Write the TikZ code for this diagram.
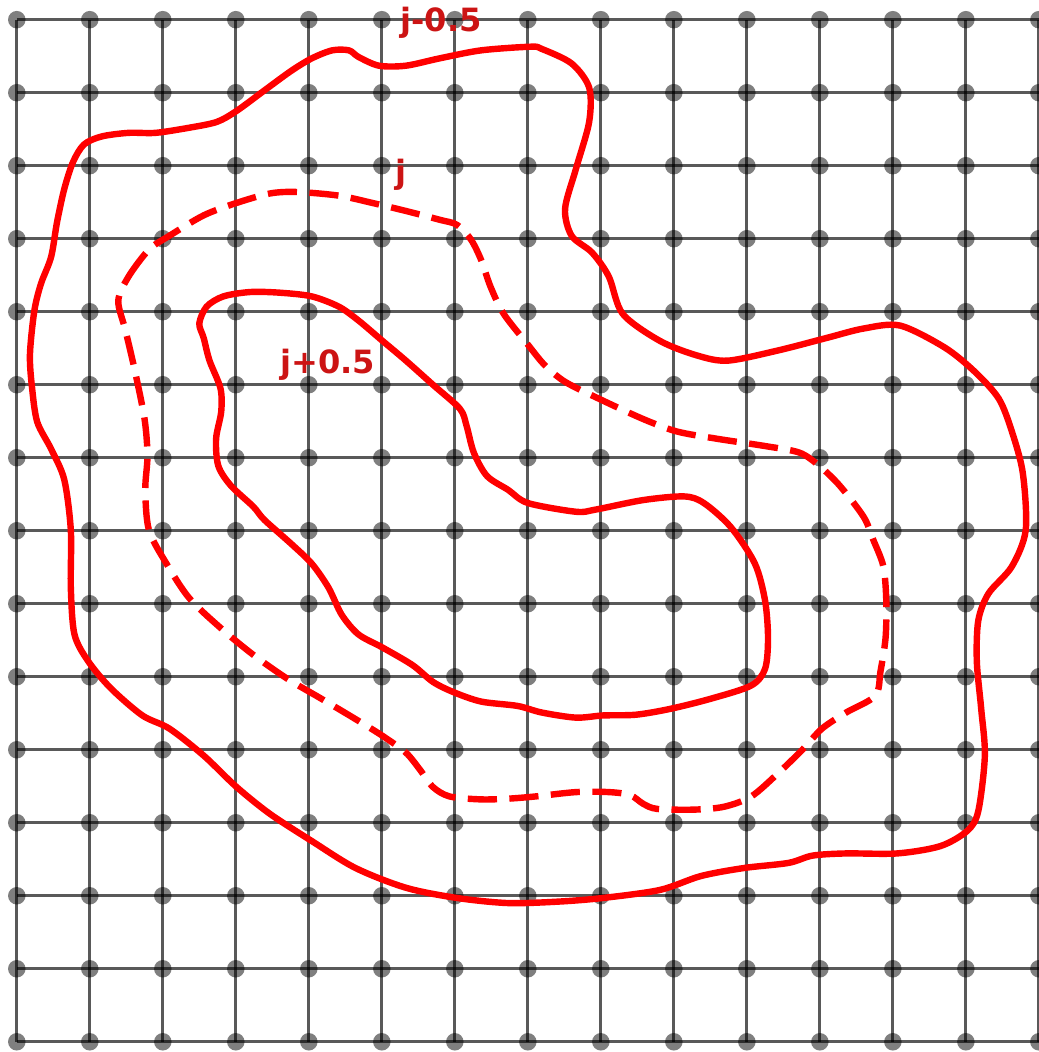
\documentclass[tikz,border=0pt]{standalone}
\usepackage{fontspec}
\setmainfont{DejaVu Sans}
\usepackage{tikz}
\definecolor{LevelRed}{HTML}{FF0000}
\definecolor{LabelRed}{HTML}{CC1414}

\begin{document}
\begin{tikzpicture}[
 gridline/.style={draw=black,opacity=0.65,line width=1.1pt},
 gdot/.style={circle,fill=black,fill opacity=0.5,inner sep=0pt,minimum size=2.4mm},
 level/.style={draw=LevelRed,line width=2.5pt,line join=round},
 lab/.style={text=LabelRed,font=\fontsize{12.5}{15}\selectfont\bfseries,inner sep=0pt,anchor=base}]
\clip (-0.23,-0.14) rectangle (14.0,14.27);
% lattice
\foreach \k in {0,...,14} {
  \draw[gridline] (0,\k) -- (14,\k);
  \draw[gridline] (\k,0) -- (\k,14);
}
\foreach \i in {0,...,14}
  \foreach \j in {0,...,14}
    \node[gdot] (p-\i-\j) at (\i,\j) {};
% level j-0.5
\draw[level] plot[smooth cycle] coordinates {
 (4.32,13.58) (4.55,13.58) (4.68,13.49) (4.96,13.37) (5.33,13.37) (5.79,13.47)
 (6.36,13.58) (7.04,13.63) (7.19,13.60) (7.60,13.40) (7.84,13.07) (7.84,12.60)
 (7.66,11.96) (7.51,11.41) (7.60,11.04) (7.88,10.81) (8.11,10.48) (8.30,9.97)
 (8.81,9.60) (9.32,9.40) (9.74,9.33) (10.43,9.47) (11.09,9.64) (11.60,9.77)
 (12.10,9.81) (12.71,9.51) (13.12,9.18) (13.45,8.81) (13.63,8.36) (13.78,7.79)
 (13.82,7.01) (13.63,6.51) (13.31,6.14) (13.17,5.77) (13.15,5.21)
 (13.21,4.56) (13.26,3.92) (13.17,3.16) (13.02,2.89) (12.65,2.68) (12.06,2.58)
 (11.36,2.58) (10.90,2.55) (10.57,2.45) (9.96,2.38) (9.37,2.27) (8.81,2.08)
 (8.03,1.97) (7.42,1.92) (6.73,1.90) (6.03,1.97) (5.33,2.11) (4.64,2.38)
 (4.04,2.75) (3.47,3.12) (3.01,3.49) (2.56,3.92) (2.09,4.29) (1.72,4.47)
 (1.29,4.84) (0.98,5.21) (0.79,5.58) (0.74,6.22) (0.74,7.01) (0.65,7.70)
 (0.47,8.12) (0.28,8.49) (0.21,8.95) (0.18,9.41) (0.24,10.01) (0.33,10.38)
 (0.47,10.75) (0.55,11.22) (0.65,11.68) (0.77,12.05) (0.92,12.29) (1.16,12.40)
 (1.53,12.45) (1.90,12.45) (2.36,12.52) (2.74,12.60) (3.01,12.75) (3.39,13.03)
 (3.76,13.30) (4.04,13.47)};
% level j
\draw[level,dash pattern=on 0.4cm off 0.17cm] plot[smooth cycle] coordinates {
 (1.39,10.15) (1.53,10.48) (1.81,10.85) (2.09,11.04) (2.56,11.32) (3.01,11.49)
 (3.47,11.62) (3.84,11.64) (4.41,11.59) (4.87,11.49) (5.33,11.38) (5.79,11.26)
 (6.03,11.19) (6.22,10.99) (6.36,10.71) (6.49,10.34) (6.67,9.97) (7.00,9.55)
 (7.23,9.27) (7.51,9.04) (7.97,8.81) (8.58,8.53) (9.04,8.36) (9.59,8.26)
 (10.25,8.16) (10.72,8.07) (10.99,7.89) (11.27,7.62) (11.60,7.19) (11.73,6.88)
 (11.87,6.51) (11.91,6.04) (11.90,5.53) (11.83,5.07) (11.76,4.74) (11.36,4.51)
 (11.03,4.29) (10.76,4.00) (10.43,3.68) (10.06,3.36) (9.69,3.22) (9.28,3.18)
 (8.77,3.19) (8.58,3.26) (8.40,3.38) (8.11,3.42) (7.66,3.42) (7.10,3.36)
 (6.73,3.33) (6.36,3.32) (5.93,3.36) (5.70,3.49) (5.52,3.73) (5.33,3.96)
 (5.01,4.19) (4.64,4.42) (4.17,4.70) (3.71,4.97) (3.24,5.30) (2.79,5.67)
 (2.36,6.08) (2.05,6.55) (1.81,7.01) (1.76,7.56) (1.79,8.03) (1.75,8.53)
 (1.62,9.18) (1.49,9.74)};
% level j+0.5
\draw[level] plot[smooth cycle] coordinates {
 (2.50,9.84) (2.60,10.07) (2.83,10.21) (3.20,10.27) (3.61,10.26) (4.04,10.21)
 (4.41,10.07) (4.68,9.88) (5.01,9.60) (5.33,9.33) (5.70,9.00) (6.07,8.67)
 (6.16,8.44) (6.26,8.07) (6.44,7.75) (6.73,7.56) (7.00,7.38) (7.66,7.26)
 (7.93,7.29) (8.58,7.42) (9.14,7.47) (9.41,7.38) (9.78,7.05) (10.11,6.55)
 (10.25,6.04) (10.29,5.53) (10.25,5.11) (10.06,4.88) (9.51,4.70) (8.95,4.56)
 (8.48,4.48) (8.03,4.47) (7.66,4.44) (7.19,4.51) (6.86,4.60) (6.36,4.66)
 (5.98,4.79) (5.70,4.93) (5.42,5.16) (5.01,5.40) (4.68,5.58) (4.45,5.85)
 (4.27,6.22) (4.04,6.55) (3.76,6.82) (3.39,7.15) (3.24,7.33) (2.93,7.62)
 (2.76,7.89) (2.73,8.26) (2.80,8.63) (2.79,8.95) (2.64,9.33) (2.56,9.64)};
% labels
\node[lab] (lm) at (5.81,13.84) {j-0.5};
\node[lab] (l0) at (5.26,11.75) {j};
\node[lab] (lp) at (4.26,9.16) {j+0.5};
\end{tikzpicture}
\end{document}
